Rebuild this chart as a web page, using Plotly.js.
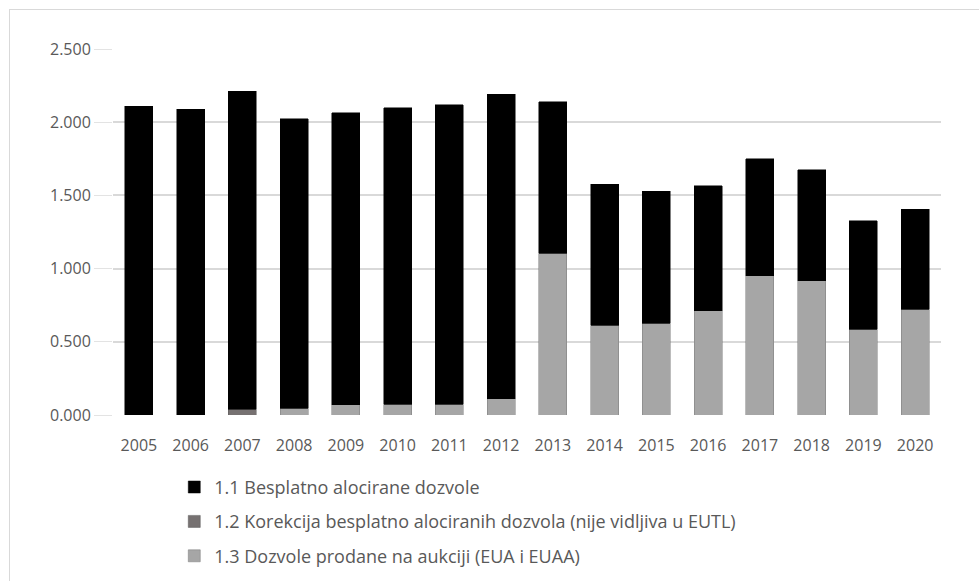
<!DOCTYPE html>
<html>
<head>
<meta charset="utf-8">
<script src="https://cdn.plot.ly/plotly-3.0.1.min.js"></script>
<style>
  html, body { margin: 0; padding: 0; background: #ffffff; }
  #frame { position: absolute; left: 9px; top: 9px; width: 990px; height: 600px; border: 1px solid #d9d9d9; box-sizing: border-box; }
  #chart { position: absolute; left: 0; top: 0; width: 979px; height: 581px; }
</style>
</head>
<body>
<div id="frame"></div>
<div id="chart"></div>
<script>
// Years (categories)
const years = ["2005","2006","2007","2008","2009","2010","2011","2012","2013","2014","2015","2016","2017","2018","2019","2020"];

// 1.1 Besplatno alocirane dozvole
const freeAllocated = [2.11, 2.09, 2.17, 1.98, 1.996, 2.025, 2.045, 2.08, 1.034, 0.963, 0.902, 0.853, 0.799, 0.758, 0.739, 0.682];

// 1.2 Korekcija besplatno alociranih dozvola (nije vidljiva u EUTL)
const correction = [0, 0, 0.04, 0, 0, 0, 0, 0, 0, 0, 0, 0, 0, 0, 0, 0];

// 1.3 Dozvole prodane na aukciji (EUA i EUAA)
const auctioned = [0, 0, 0, 0.045, 0.07, 0.075, 0.075, 0.11, 1.106, 0.614, 0.628, 0.712, 0.951, 0.917, 0.587, 0.724];

const yTicks = [0, 0.5, 1, 1.5, 2, 2.5];

const seriesNames = [
  "1.1 Besplatno alocirane dozvole",
  "1.2 Korekcija besplatno alociranih dozvola (nije vidljiva u EUTL)",
  "1.3 Dozvole prodane na aukciji (EUA i EUAA)"
];

const FONT = "'Open Sans', 'Liberation Sans', sans-serif";
const TXT = "#595959";

const traces = [
  { type: "bar", x: years, y: auctioned, name: seriesNames[2], legendgroup: "c", legendrank: 3,
    marker: { color: "#a6a6a6", line: { color: "#7a7a7a", width: 0.5 } }, hoverinfo: "x+y+name" },
  { type: "bar", x: years, y: correction, name: seriesNames[1], legendgroup: "b", legendrank: 2,
    marker: { color: "#767171", line: { color: "#5a5a5a", width: 0.5 } }, hoverinfo: "x+y+name" },
  { type: "bar", x: years, y: freeAllocated, name: seriesNames[0], legendgroup: "a", legendrank: 1,
    marker: { color: "#000000", line: { color: "#000000", width: 0.5 } }, hoverinfo: "x+y+name" }
];

const layout = {
  width: 979, height: 581,
  margin: { l: 113, r: 38, t: 49, b: 166, autoexpand: false },
  paper_bgcolor: "rgba(0,0,0,0)",
  plot_bgcolor: "rgba(0,0,0,0)",
  barmode: "stack",
  bargap: 0.46,
  font: { family: FONT, size: 16, color: TXT },
  showlegend: true,
  legend: {
    orientation: "v",
    x: 0.074, xanchor: "left",
    y: -0.147, yanchor: "top",
    traceorder: "grouped",
    tracegroupgap: 8,
    font: { family: FONT, size: 18, color: TXT },
    bgcolor: "rgba(0,0,0,0)"
  },
  xaxis: {
    type: "category",
    tickvals: years, ticktext: years,
    showgrid: false, zeroline: false, showline: false,
    ticks: "outside", ticklen: 16, tickcolor: "rgba(0,0,0,0)",
    tickfont: { family: FONT, size: 16, color: TXT }
  },
  yaxis: {
    range: [0, 2.5],
    tickvals: yTicks,
    tickformat: ".3f",
    showgrid: true, gridcolor: "#d9d9d9", gridwidth: 2,
    zeroline: false, showline: false,
    ticks: "outside", ticklen: 18, tickcolor: "#e3e3e3", tickwidth: 1,
    tickfont: { family: FONT, size: 16, color: TXT }
  }
};

Plotly.newPlot("chart", traces, layout, { displayModeBar: false, staticPlot: true });
</script>
</body>
</html>
